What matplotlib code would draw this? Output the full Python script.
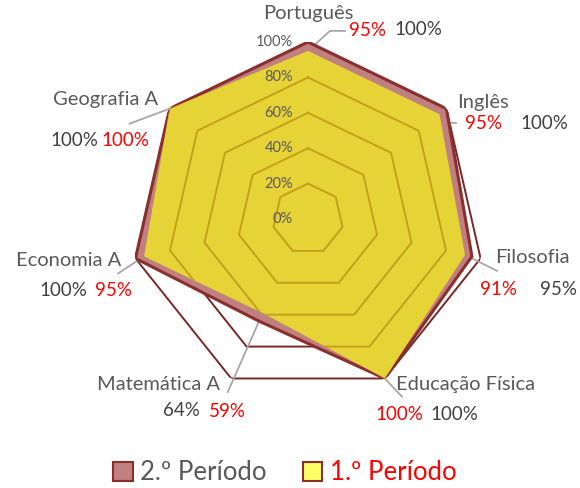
import numpy as np
import matplotlib
matplotlib.use("Agg")
import matplotlib.pyplot as plt
from matplotlib.lines import Line2D
from matplotlib.patches import Patch
from matplotlib.transforms import IdentityTransform

plt.rcParams["font.family"] = ["Lato", "DejaVu Sans"]

categories = ["Português", "Inglês", "Filosofia", "Educação Física",
              "Matemática A", "Economia A", "Geografia A"]
periodo2 = [100, 100, 95, 100, 64, 100, 100]
periodo1 = [95, 95, 91, 100, 59, 95, 100]
series_names = ["2.º Período", "1.º Período"]
rings = [20, 40, 60, 80, 100]
tick_values = [0, 20, 40, 60, 80, 100]

MAROON = "#8B2E2E"
GRID = "#7A2626"
PINK = "#C08080"
YELLOW = "#E6D336"
GOLD = "#C4A01C"
GRAY = "#595959"
DARK = "#404040"
RED = "#FF0000"

# label offsets in pixels from each 1.º Período vertex (x right, y up):
# name, 2.º value, 1.º value, leader polyline
label_pos = {
    "Português": ((0, 37), (110, 21), (59, 20), [(0, 0), (22, 20), (37, 20)]),
    "Inglês": ((44, 12), (105, -9), (44, -9), [(3, 2), (3, -9), (17, -9)]),
    "Filosofia": ((67, -3), (93, -35), (33, -35), [(0, 0), (32, -16)]),
    "Educação Física": ((81, -6), (70, -36), (15, -36), [(0, 0), (17, -18)]),
    "Matemática A": ((-104, -71), (-81, -97), (-35, -98), [(0, 0), (-35, -79)]),
    "Economia A": ((-75, -4), (-81, -34), (-31, -34), [(0, 0), (-26, -17)]),
    "Geografia A": ((-64, 9), (-95, -32), (-44, -32), [(0, 0), (-40, -15)]),
}

n = len(categories)
theta = np.arange(n) * 2 * np.pi / n
tc = np.append(theta, theta[0])

fig = plt.figure(figsize=(5.8, 4.88), dpi=100)
ax = fig.add_axes([0.2259, 0.1885, 0.6103, 0.7254], projection="polar")
ax.set_theta_zero_location("N")
ax.set_theta_direction(-1)
ax.set_ylim(0, 100)
ax.axis("off")

# grid rings under the series
for r in rings:
    ax.plot(tc, [r] * (n + 1), color=GRID, lw=1.4, zorder=1)

ax.fill(tc, np.append(periodo2, periodo2[0]), facecolor=PINK, edgecolor=MAROON,
        lw=2.2, zorder=2)
yel = ax.fill(tc, np.append(periodo1, periodo1[0]), facecolor=YELLOW,
              edgecolor="none", zorder=3)[0]

# rings seen through the yellow fill
for r in rings:
    ln, = ax.plot(tc, [r] * (n + 1), color=GOLD, lw=1.4, zorder=4)
    ln.set_clip_path(yel)

for v in tick_values:
    ax.annotate(f"{v}%", xy=(0, v), xytext=(-15, 0), textcoords="offset pixels",
                ha="right", va="center", fontsize=10.5, color=GRAY, zorder=6)

for i, cat in enumerate(categories):
    name_off, v2_off, v1_off, leader = label_pos[cat]
    xy = (theta[i], periodo1[i])
    ax.annotate(cat, xy=xy, xytext=name_off, textcoords="offset pixels",
                ha="center", va="center", fontsize=14.5, color=GRAY,
                annotation_clip=False)
    ax.annotate(f"{periodo2[i]}%", xy=xy, xytext=v2_off, textcoords="offset pixels",
                ha="center", va="center", fontsize=13.5, color=DARK,
                annotation_clip=False)
    ax.annotate(f"{periodo1[i]}%", xy=xy, xytext=v1_off, textcoords="offset pixels",
                ha="center", va="center", fontsize=13.5, color=RED,
                annotation_clip=False)
    px, py = ax.transData.transform(xy)
    xs = [px + dx for dx, dy in leader]
    ys = [py + dy for dx, dy in leader]
    ax.add_line(Line2D(xs, ys, transform=IdentityTransform(), color="#A6A6A6",
                       lw=1.3, zorder=1.5, clip_on=False))

handles = [Patch(facecolor=PINK, edgecolor=MAROON, lw=1.5),
           Patch(facecolor="#FFFF66", edgecolor=MAROON, lw=1.5)]
leg = fig.legend(handles, series_names, loc="center", bbox_to_anchor=(0.491, 0.031),
                 ncol=2, frameon=False, fontsize=18.5, handlelength=0.75,
                 handleheight=0.75, handletextpad=0.3, columnspacing=1.4)
leg.get_texts()[0].set_color(GRAY)
leg.get_texts()[1].set_color(RED)

fig.savefig("out.png", dpi=100)
